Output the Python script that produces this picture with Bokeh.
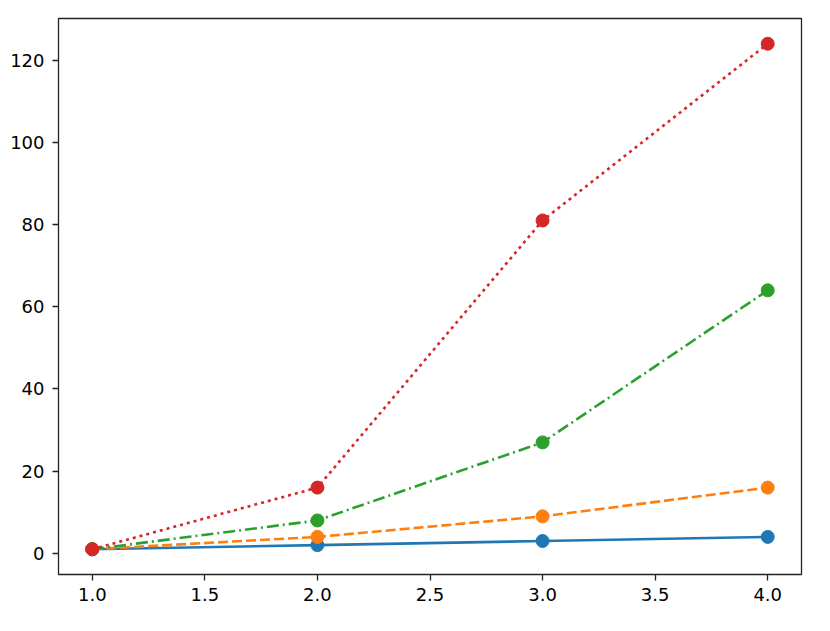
from bokeh.plotting import figure
from bokeh.models import FixedTicker, Range1d, NumeralTickFormatter
from bokeh.embed import file_html
from bokeh.resources import INLINE

x = [1, 2, 3, 4]
s_linear = [1, 2, 3, 4]
s_square = [1, 4, 9, 16]
s_cube = [1, 8, 27, 64]
s_top = [1, 16, 81, 124]

x_ticks = [1.0, 1.5, 2.0, 2.5, 3.0, 3.5, 4.0]
y_ticks = [0, 20, 40, 60, 80, 100, 120]

p = figure(width=822, height=623, output_backend="svg", toolbar_location=None,
           x_range=Range1d(0.85, 4.15), y_range=Range1d(-5.15, 130.15),
           min_border_left=58, min_border_right=21, min_border_top=18, min_border_bottom=49)
p.grid.visible = False
p.outline_line_color = "#222222"
p.outline_line_width = 1.3
p.background_fill_color = "white"
p.border_fill_color = "white"

series = [
    (s_linear, "#1f77b4", "solid"),
    (s_square, "#ff7f0e", "10 4"),
    (s_cube, "#2ca02c", "12 4 2 4"),
    (s_top, "#d62728", "3 4"),
]
for ys, c, dash in series:
    p.line(x, ys, line_color=c, line_width=2.6, line_dash=dash)
    p.scatter(x, ys, size=13, fill_color=c, line_color=c)

p.xaxis.ticker = FixedTicker(ticks=x_ticks)
p.xaxis.formatter = NumeralTickFormatter(format="0.0")
p.yaxis.ticker = FixedTicker(ticks=y_ticks)
for ax in (p.xaxis, p.yaxis):
    ax.axis_line_color = None
    ax.major_tick_in = 0
    ax.major_tick_out = 6
    ax.major_tick_line_color = "#222222"
    ax.major_tick_line_width = 1.3
    ax.minor_tick_line_color = None
    ax.major_label_text_font = "DejaVu Sans"
    ax.major_label_text_font_size = "18px"
    ax.major_label_text_color = "black"
p.xaxis.major_label_standoff = 7
p.yaxis.major_label_standoff = 8

open("out.html", "w").write(file_html(p, INLINE))
